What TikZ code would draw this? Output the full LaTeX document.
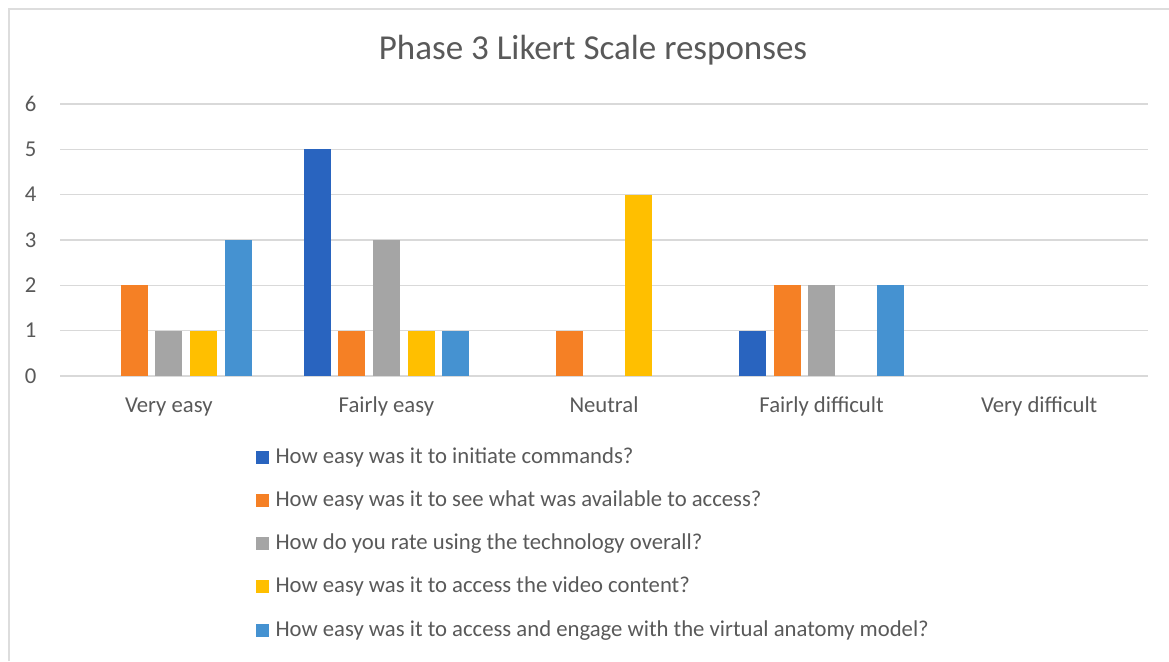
\documentclass[tikz,border=0pt]{standalone}
\usepackage{fontspec}
\setmainfont{Carlito}
\definecolor{qone}{HTML}{2964BF}
\definecolor{qtwo}{HTML}{F58025}
\definecolor{qthree}{HTML}{A5A5A5}
\definecolor{qfour}{HTML}{FFBF00}
\definecolor{qfive}{HTML}{4592D1}
\definecolor{txtgray}{HTML}{595959}
\definecolor{gridgray}{HTML}{D9D9D9}
\definecolor{framegray}{HTML}{DDDDDD}
\begin{document}
\begin{tikzpicture}[x=1pt,y=-1pt,
	gridline/.style={draw=gridgray,line width=1.4pt},
	lbl/.style={text=txtgray,font=\fontsize{22.7}{27}\selectfont}]
	\useasboundingbox (0,0) rectangle (1169,661);
	\draw[framegray,line width=2pt] (9,661) -- (9,9) -- (1169,9);
	\node[text=txtgray,font=\fontsize{35}{42}\selectfont] (title) at (593,50) {Phase 3 Likert Scale responses};
	% value axis
	\foreach \v in {0,...,6} {
		\draw[gridline] (60,{376-45.33*\v}) -- (1148,{376-45.33*\v});
		\node[lbl,anchor=east] (tick\v) at (40,{376-45.33*\v}) {\v};
	}
	% bars
	\foreach \col/\vals [count=\s from 0] in {qone/{0,5,0,1,0},qtwo/{2,1,1,2,0},qthree/{1,3,0,2,0},qfour/{1,1,4,0,0},qfive/{3,1,0,2,0}} {
		\foreach \h [count=\i from 0] in \vals {
			\ifnum\h>0
				\fill[\col] ({168.8+217.6*\i+34.6*(\s-2)-13.5},376) rectangle ({168.8+217.6*\i+34.6*(\s-2)+13.5},{376-45.33*\h});
			\fi
		}
	}
	% categories
	\foreach \cat [count=\i from 0] in {Very easy,Fairly easy,Neutral,Fairly difficult,Very difficult}
		\node[lbl,anchor=base] (cat\i) at ({168.8+217.6*\i},412) {\cat};
	% legend
	\foreach \col/\txt [count=\s from 0] in {qone/How easy was it to initiate commands?,qtwo/How easy was it to see what was available to access?,qthree/How do you rate using the technology overall?,qfour/How easy was it to access the video content?,qfive/How easy was it to access and engage with the virtual anatomy model?} {
		\fill[\col] (256,{457+43.3*\s-6.5}) rectangle ++(13,13);
		\node[lbl,anchor=west] (leg\s) at (272,{457+43.3*\s}) {\txt};
	}
\end{tikzpicture}
\end{document}
